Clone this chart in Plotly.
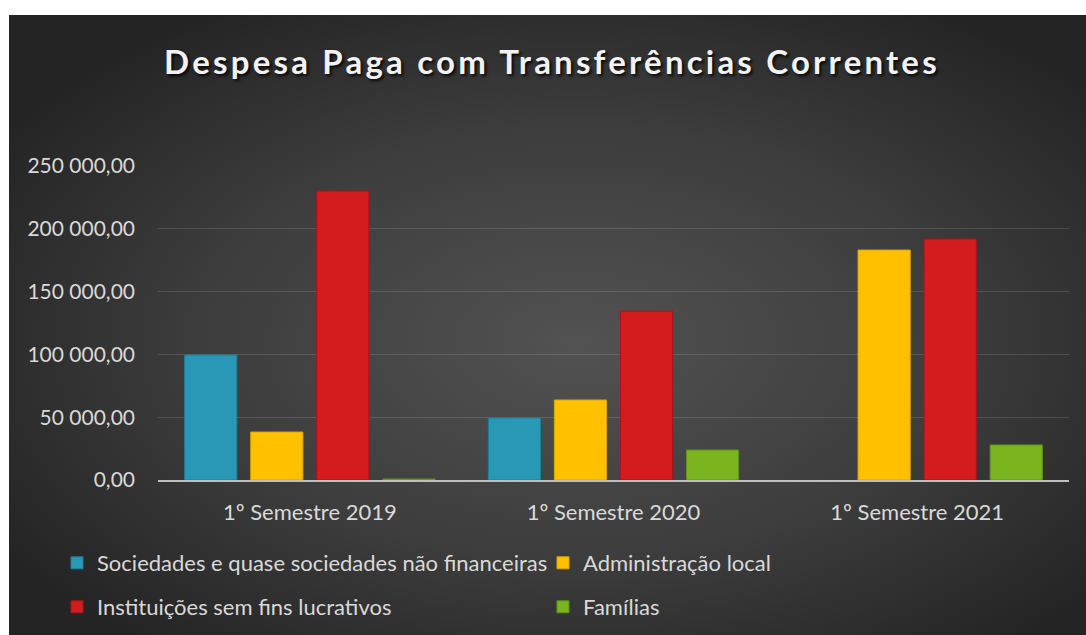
import base64
import plotly.graph_objects as go

categories = ["1º Semestre 2019", "1º Semestre 2020", "1º Semestre 2021"]
series_names = [
    "Sociedades e quase sociedades não financeiras",
    "Administração local",
    "Instituições sem fins lucrativos",
    "Famílias",
]
sociedades = [99500, 49400, None]
administracao = [38200, 63700, 183100]
instituicoes = [230100, 134500, 191900]
familias = [800, 23900, 27900]
tick_vals = [0, 50000, 100000, 150000, 200000, 250000]
tick_text = ["0,00", "50 000,00", "100 000,00", "150 000,00", "200 000,00", "250 000,00"]

colors = ["#2898b6", "#ffc000", "#d41b1e", "#7ab41e"]
line_colors = ["#1f7f99", "#e0a200", "#a81417", "#5f9117"]
values = [sociedades, administracao, instituicoes, familias]
legend_ids = ["legend", "legend", "legend2", "legend2"]

W, H = 1086, 635
FONT = "Lato"


def px(x):
    return x / W


def py(y):
    return 1 - y / H


fig = go.Figure()
for name, vals, c, lc, lg in zip(series_names, values, colors, line_colors, legend_ids):
    fig.add_trace(go.Bar(
        x=categories, y=vals, name=name,
        marker=dict(color=c, line=dict(color=lc, width=1)),
        legend=lg,
    ))

svg = (
    '<svg xmlns="http://www.w3.org/2000/svg" width="1077" height="620" viewBox="0 0 1077 620" preserveAspectRatio="none">'
    '<defs><radialGradient id="g" cx="52%" cy="52%" r="62%">'
    '<stop offset="0" stop-color="#525252"/><stop offset="0.55" stop-color="#3d3d3d"/>'
    '<stop offset="1" stop-color="#242424"/></radialGradient></defs>'
    '<rect width="1077" height="620" fill="url(#g)"/></svg>'
)
src = "data:image/svg+xml;base64," + base64.b64encode(svg.encode()).decode()

fig.update_layout(
    width=W, height=H,
    margin=dict(l=0, r=0, t=0, b=0, pad=0),
    paper_bgcolor="white",
    plot_bgcolor="rgba(0,0,0,0)",
    font=dict(family=FONT, color="#d9d9d9", size=21),
    barmode="group",
    bargap=0.13,
    bargroupgap=0.21,
    images=[dict(source=src, xref="paper", yref="paper", x=px(9), y=py(15),
                 sizex=(1100 - 9) / W, sizey=(645 - 15) / H, xanchor="left", yanchor="top",
                 sizing="stretch", layer="below")],
    title=dict(
        text="Despesa Paga com Transferências Correntes",
        x=px(552), xanchor="center", y=py(62), yanchor="middle",
        font=dict(family=FONT, size=33, color="#f2f2f2", weight="bold",
                  shadow="2px 2px 3px rgba(0,0,0,0.85)"),
    ),
    xaxis=dict(
        domain=[px(158), px(1069)], automargin=False,
        showgrid=False, showline=True, linecolor="#bfbfbf", linewidth=2,
        ticks="", ticklabelstandoff=12,
        tickfont=dict(family=FONT, size=22, color="#d9d9d9"),
    ),
    yaxis=dict(
        domain=[py(480), py(166)], automargin=False,
        range=[0, 250000],
        tickvals=tick_vals, ticktext=tick_text,
        showgrid=True, gridcolor="rgba(255,255,255,0.13)", gridwidth=1,
        zeroline=False, showline=False, ticks="",
        ticklabelstandoff=22,
        tickfont=dict(family=FONT, size=21, color="#d9d9d9"),
    ),
    legend=dict(
        orientation="h", x=px(57), xanchor="left", y=py(563), yanchor="middle",
        bgcolor="rgba(0,0,0,0)", font=dict(family=FONT, size=22, color="#d9d9d9"),
        entrywidth=441, entrywidthmode="pixels", itemwidth=30,
    ),
    legend2=dict(
        orientation="h", x=px(57), xanchor="left", y=py(607), yanchor="middle",
        bgcolor="rgba(0,0,0,0)", font=dict(family=FONT, size=22, color="#d9d9d9"),
        entrywidth=441, entrywidthmode="pixels", itemwidth=30,
    ),
)

post = (
    "document.documentElement.style.overflow='hidden';"
    "document.documentElement.style.margin='0';"
    "document.body.style.margin='0';"
    "document.body.style.overflow='hidden';"
    "document.querySelectorAll('.gtitle').forEach(function(e){"
    "e.style.letterSpacing='3.2px';});"
)
fig.write_html("out.html", post_script=post, config={"displayModeBar": False})
